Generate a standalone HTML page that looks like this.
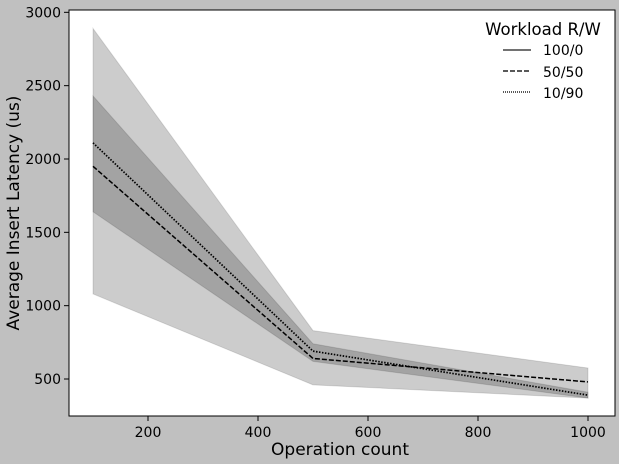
<!DOCTYPE html>
<html><head><meta charset="utf-8"><style>
body{margin:0;background:#c0c0c0;}
svg{display:block;font-family:"DejaVu Sans","Liberation Sans",sans-serif;}
</style></head><body>
<svg id="c" width="619" height="464">
<rect x="0" y="0" width="619" height="464" fill="#c0c0c0"/>
<rect x="69" y="10" width="546" height="406" fill="#fff" stroke="#000" stroke-width="1"/>
<g id="bands"></g><g id="lines"></g><g id="ticks"></g>
<text x="340" y="455" font-size="17" text-anchor="middle">Operation count</text>
<text transform="translate(19,213) rotate(-90)" font-size="17" text-anchor="middle">Average Insert Latency (us)</text>
<g>
<text x="543" y="35" font-size="16.5" text-anchor="middle">Workload R/W</text>
<line x1="503" y1="50" x2="531" y2="50" stroke="#444" stroke-width="1.5"/>
<text x="543" y="55" font-size="14">100/0</text>
<line x1="503" y1="71" x2="531" y2="71" stroke="#222" stroke-width="1.5" stroke-dasharray="5,2"/>
<text x="543" y="77" font-size="14">50/50</text>
<line x1="503" y1="92" x2="531" y2="92" stroke="#222" stroke-width="1.5" stroke-dasharray="1,1"/>
<text x="543" y="98" font-size="14">10/90</text>
</g>
</svg>
<script>
const xs=[100,500,1000];
const dashedMean=[1950,640,480];
const dashedLow=[1080,460,370];
const dashedHigh=[2890,830,575];
const dottedMean=[2110,690,390];
const dottedLow=[1640,620,370];
const dottedHigh=[2430,740,410];
const xTicks=[200,400,600,800,1000];
const yTicks=[500,1000,1500,2000,2500,3000];
const X=v=>93+(v-100)*0.55;
const Y=v=>379-(v-500)*0.14667;
const NS="http://www.w3.org/2000/svg";
function mk(t,p,a){const e=document.createElementNS(NS,t);for(const k in a)e.setAttribute(k,a[k]);p.appendChild(e);return e;}
const bands=document.getElementById('bands'),lines=document.getElementById('lines'),ticks=document.getElementById('ticks');
function band(lo,hi,fill){const pts=xs.map((x,i)=>X(x)+','+Y(hi[i])).concat(xs.map((x,i)=>X(x)+','+Y(lo[i])).reverse()).join(' ');
return mk('polygon',bands,{points:pts,fill:'#000','fill-opacity':fill,stroke:'#000','stroke-opacity':0.12});}
let b=band(dashedLow,dashedHigh,0.2);


b=band(dottedLow,dottedHigh,0.2);


function line(m,dash,w){return mk('polyline',lines,{points:xs.map((x,i)=>X(x)+','+Y(m[i])).join(' '),fill:'none',stroke:'#000','stroke-width':w,'stroke-dasharray':dash});}
let l=line(dashedMean,'5,2',1.5);


l=line(dottedMean,'1.5,1.5',1.7);


xTicks.forEach(t=>{const g=mk('g',ticks,{});


mk('line',g,{x1:X(t),x2:X(t),y1:416,y2:421,stroke:'#000'});
const tx=mk('text',g,{x:X(t),y:437,'font-size':14,'text-anchor':'middle'});tx.textContent=t;});
yTicks.forEach(t=>{const g=mk('g',ticks,{});


mk('line',g,{x1:64,x2:69,y1:Y(t),y2:Y(t),stroke:'#000'});
const tx=mk('text',g,{x:61,y:Y(t)+5,'font-size':14,'text-anchor':'end'});tx.textContent=t;});
</script>
</body></html>
